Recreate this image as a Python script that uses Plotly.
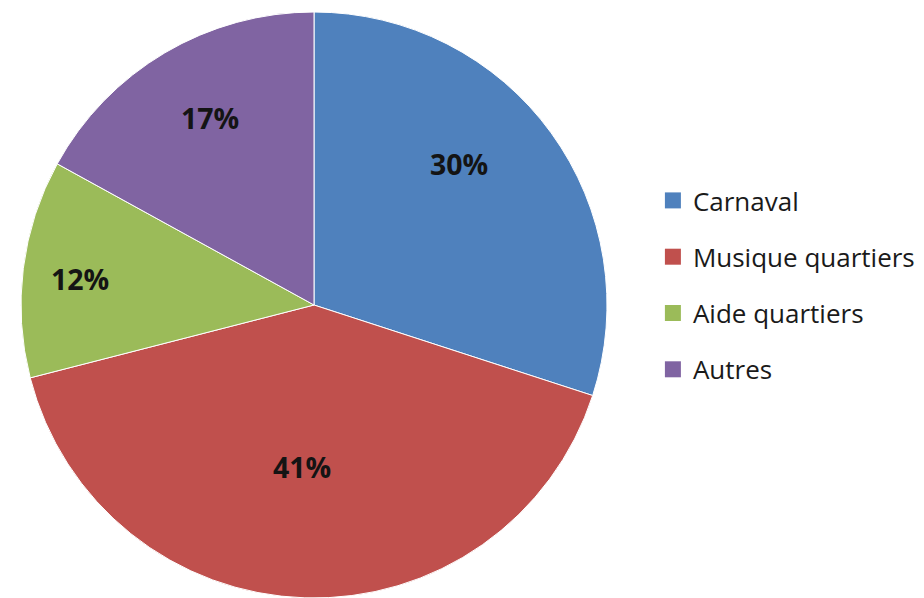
import math
import plotly.graph_objects as go

labels = ["Carnaval", "Musique quartiers", "Aide quartiers", "Autres"]
values = [30, 41, 12, 17]
colors = ["#4F81BD", "#C0504D", "#9BBB59", "#8064A2"]

# label placement (style): radial fraction and angular nudge in degrees
label_radius = [0.69, 0.55, 0.80, 0.73]
label_shift = [-8.5, 2.5, -0.5, 1.5]

W, H = 924, 598
cx, cy, r = 314, 306, 294

fig = go.Figure()
fig.add_trace(go.Pie(
    labels=labels, values=values, sort=False, direction="clockwise", rotation=0,
    marker=dict(colors=colors, line=dict(color="white", width=1)),
    textinfo="none", showlegend=False, hoverinfo="label+percent",
    domain=dict(x=[(cx - r) / W, (cx + r) / W], y=[max(0, (H - cy - r) / H), (H - cy + r) / H]),
))
for lab, col in zip(labels, colors):
    fig.add_trace(go.Scatter(
        x=[None], y=[None], mode="markers", name=lab, legendgroup=lab,
        marker=dict(symbol="square", size=17, color=col),
    ))

total = sum(values)
cum = 0
annotations = []
for v, rf, sh in zip(values, label_radius, label_shift):
    mid = (cum + v / 2) / total * 360 + sh
    cum += v
    a = math.radians(mid)
    px = cx + rf * r * math.sin(a)
    py = cy - rf * r * math.cos(a)
    annotations.append(dict(
        x=px / W, y=1 - py / H, xref="paper", yref="paper",
        xanchor="center", yanchor="middle",
        text=f"{round(v / total * 100)}%", showarrow=False,
        font=dict(family="Open Sans", size=28.5, color="#141414", weight="bold"),
    ))

fig.update_layout(
    width=W, height=H, margin=dict(l=0, r=0, t=0, b=0),
    paper_bgcolor="white", plot_bgcolor="white",
    xaxis=dict(visible=False), yaxis=dict(visible=False),
    showlegend=True, annotations=annotations,
    legend=dict(x=0.7066, xanchor="left", y=1 - 177 / H, yanchor="top",
                font=dict(family="Open Sans", size=26, color="#1a1a1a"),
                tracegroupgap=19.5, itemwidth=30, bgcolor="rgba(0,0,0,0)"),
)
fig.write_html("out.html", config={"displayModeBar": False},
               post_script="document.body.style.margin='0px';")
